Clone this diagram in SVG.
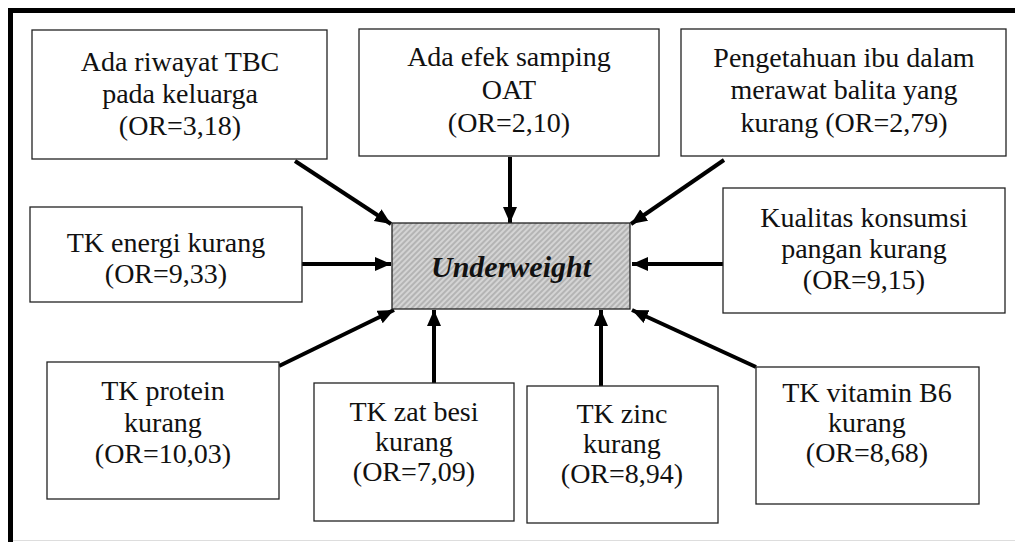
<svg xmlns="http://www.w3.org/2000/svg" width="1015" height="542" viewBox="0 0 1015 542">
<style>
.box{fill:#fff;stroke:#222;stroke-width:1.3}
.t{font-family:"Liberation Serif","Times New Roman",serif;font-size:28px;fill:#111;text-anchor:middle}
.c{font-family:"Liberation Serif","Times New Roman",serif;font-size:30px;font-weight:bold;font-style:italic;fill:#111;text-anchor:middle}
.a{stroke:#000;stroke-width:4;fill:none;marker-end:url(#ah)}
</style>
<defs>
<marker id="ah" markerUnits="userSpaceOnUse" markerWidth="17" markerHeight="15" refX="16" refY="7" orient="auto">
<path d="M0,0 L16,7 L0,14 z" fill="#000"/>
</marker>
<pattern id="hatch" width="4" height="4" patternUnits="userSpaceOnUse" patternTransform="rotate(45)">
<rect width="4" height="4" fill="#d4d4d4"/>
<rect width="2" height="4" fill="#b4b4b4"/>
</pattern>
</defs>
<rect width="1015" height="542" fill="#fff"/>
<g id="frame">
<line x1="8" y1="10.5" x2="1015" y2="10.5" stroke="#000" stroke-width="5"/>
<line x1="10.5" y1="8" x2="10.5" y2="542" stroke="#000" stroke-width="5"/>
<line x1="13" y1="540.5" x2="1015" y2="540.5" stroke="#ddd" stroke-width="1"/>
</g>
<g id="connectors">
<line class="a" x1="295" y1="161" x2="391" y2="224"/>
<line class="a" x1="510" y1="157" x2="510" y2="223"/>
<line class="a" x1="724" y1="160" x2="631" y2="224"/>
<line class="a" x1="302" y1="264" x2="391" y2="264"/>
<line class="a" x1="723" y1="264" x2="632" y2="264"/>
<line class="a" x1="279" y1="366" x2="394" y2="310"/>
<line class="a" x1="434" y1="383" x2="434" y2="310"/>
<line class="a" x1="601" y1="386" x2="601" y2="310"/>
<line class="a" x1="756" y1="367" x2="632" y2="310"/>
</g>
<g id="n-center">
<rect x="392" y="223" width="238" height="86" fill="url(#hatch)" stroke="#222" stroke-width="1.3"/>
<text class="c" x="511" y="277">Underweight</text>
</g>
<g id="n-tbc">
<rect class="box" x="32" y="30" width="295" height="129"/>
<text class="t" x="180" y="71">Ada riwayat TBC</text>
<text class="t" x="180" y="103">pada keluarga</text>
<text class="t" x="180" y="135">(OR=3,18)</text>
</g>
<g id="n-oat">
<rect class="box" x="359" y="29" width="300" height="127"/>
<text class="t" x="509" y="66">Ada efek samping</text>
<text class="t" x="509" y="99">OAT</text>
<text class="t" x="509" y="132">(OR=2,10)</text>
</g>
<g id="n-pengetahuan">
<rect class="box" x="681" y="29" width="325" height="127"/>
<text class="t" x="844" y="67">Pengetahuan ibu dalam</text>
<text class="t" x="844" y="99">merawat balita yang</text>
<text class="t" x="844" y="132">kurang (OR=2,79)</text>
</g>
<g id="n-energi">
<rect class="box" x="30" y="207" width="272" height="95"/>
<text class="t" x="166" y="252">TK energi kurang</text>
<text class="t" x="166" y="283">(OR=9,33)</text>
</g>
<g id="n-kualitas">
<rect class="box" x="723" y="188" width="282" height="125"/>
<text class="t" x="864" y="227">Kualitas konsumsi</text>
<text class="t" x="864" y="258">pangan kurang</text>
<text class="t" x="864" y="289">(OR=9,15)</text>
</g>
<g id="n-protein">
<rect class="box" x="47" y="362" width="232" height="137"/>
<text class="t" x="163" y="400">TK protein</text>
<text class="t" x="163" y="432">kurang</text>
<text class="t" x="163" y="463">(OR=10,03)</text>
</g>
<g id="n-besi">
<rect class="box" x="314" y="383" width="200" height="138"/>
<text class="t" x="414" y="421">TK zat besi</text>
<text class="t" x="414" y="451">kurang</text>
<text class="t" x="414" y="481">(OR=7,09)</text>
</g>
<g id="n-zinc">
<rect class="box" x="527" y="386" width="191" height="137"/>
<text class="t" x="622" y="423">TK zinc</text>
<text class="t" x="622" y="453">kurang</text>
<text class="t" x="622" y="483">(OR=8,94)</text>
</g>
<g id="n-b6">
<rect class="box" x="756" y="367" width="223" height="137"/>
<text class="t" x="867" y="402">TK vitamin B6</text>
<text class="t" x="867" y="432">kurang</text>
<text class="t" x="867" y="462">(OR=8,68)</text>
</g>
</svg>
